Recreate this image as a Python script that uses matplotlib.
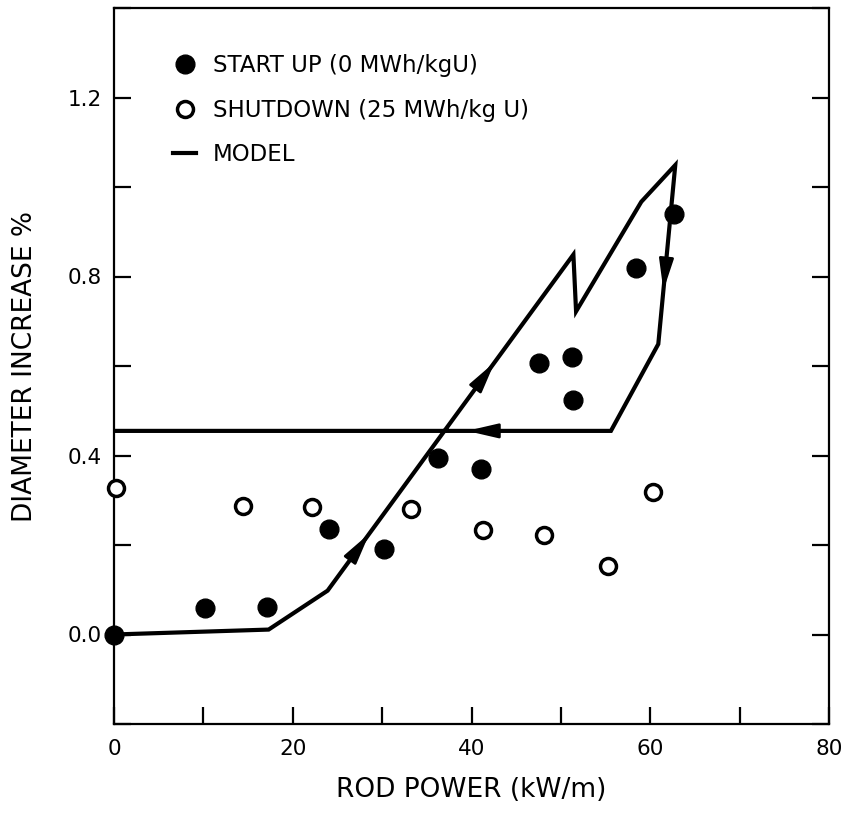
import numpy as np
import matplotlib
matplotlib.use("Agg")
import matplotlib.pyplot as plt
from matplotlib.lines import Line2D

plt.rcParams['font.family'] = ['DejaVu Sans']

# ---- data ----
startup_x = [0, 10.2, 17.1, 24.0, 30.2, 36.2, 41.1, 47.6, 51.3, 51.4, 58.4, 62.7]
startup_y = [0.0, 0.06, 0.062, 0.235, 0.19, 0.395, 0.37, 0.607, 0.62, 0.524, 0.82, 0.94]

shutdown_x = [0.2, 14.4, 22.1, 33.2, 41.3, 48.1, 55.3, 60.3]
shutdown_y = [0.327, 0.288, 0.284, 0.28, 0.233, 0.222, 0.153, 0.319]

model_x = [0, 17.3, 23.9, 51.4, 51.7, 59.0, 62.8, 60.9, 55.6, 0]
model_y = [0.0, 0.011, 0.098, 0.849, 0.722, 0.967, 1.049, 0.649, 0.455, 0.455]

# arrows: (segment index, fraction along segment)
arrow_marks = [(2, 0.17), (2, 0.68), (6, 0.70), (8, 0.29)]

x_ticks_major = [0, 20, 40, 60, 80]
y_ticks_major = [0.0, 0.4, 0.8, 1.2]

legend_labels = ["START UP (0 MWh/kgU)", "SHUTDOWN (25 MWh/kg U)", "MODEL"]

# ---- figure ----
fig = plt.figure(figsize=(8.46, 8.16), dpi=100)
ax = fig.add_axes([114/846, 92/816, 715/846, 716/816])

ax.plot(model_x, model_y, color='black', lw=3.0, solid_joinstyle='miter', zorder=2)

for seg, frac in arrow_marks:
    x0, y0 = model_x[seg], model_y[seg]
    x1, y1 = model_x[seg + 1], model_y[seg + 1]
    hx, hy = x0 + frac * (x1 - x0), y0 + frac * (y1 - y0)
    tx, ty = x0 + (frac - 0.05) * (x1 - x0), y0 + (frac - 0.05) * (y1 - y0)
    ax.annotate('', xy=(hx, hy), xytext=(tx, ty),
                arrowprops=dict(arrowstyle='-|>,head_length=0.95,head_width=0.22',
                                color='black', lw=2.0, shrinkA=0, shrinkB=0,
                                mutation_scale=20), zorder=3)

ax.plot(startup_x, startup_y, 'o', color='black', ms=13.5, mec='black', zorder=4,
        clip_on=False)
ax.plot(shutdown_x, shutdown_y, 'o', mfc='white', mec='black', ms=11.5, mew=2.5,
        zorder=4, clip_on=False)

ax.set_xlim(0, 80)
ax.set_ylim(-0.195, 1.397)
xt = list(range(0, 81, 10))
ax.set_xticks(xt)
ax.set_xticklabels([str(v) if v in x_ticks_major else '' for v in xt])
yt = list(np.round(np.arange(-0.2, 1.41, 0.2), 1))
ax.set_yticks(yt)
ax.set_yticklabels(['%.1f' % v if any(abs(v - t) < 1e-6 for t in y_ticks_major) else ''
                    for v in yt])

ax.tick_params(axis='both', direction='in', length=12, width=1.6, labelsize=15.5,
               colors='black')
ax.tick_params(axis='x', pad=11, top=False)
ax.tick_params(axis='y', pad=9, right=True)
for s in ax.spines.values():
    s.set_linewidth(1.6)

ax.set_xlabel('ROD POWER (kW/m)', fontsize=19, labelpad=13)
ax.set_ylabel('DIAMETER INCREASE %', fontsize=19, labelpad=21)

handles = [
    Line2D([], [], ls='none', marker='o', color='black', ms=13.5),
    Line2D([], [], ls='none', marker='o', mfc='white', mec='black', ms=11.5, mew=2.5),
    Line2D([], [], color='black', lw=3.0),
]
ax.legend(handles, legend_labels, loc='upper left', bbox_to_anchor=(0.083, 0.936),
          frameon=False, fontsize=16.5, handlelength=1.0, handletextpad=0.72,
          labelspacing=0.95, borderpad=0, borderaxespad=0)

fig.savefig('out.png', dpi=100)
